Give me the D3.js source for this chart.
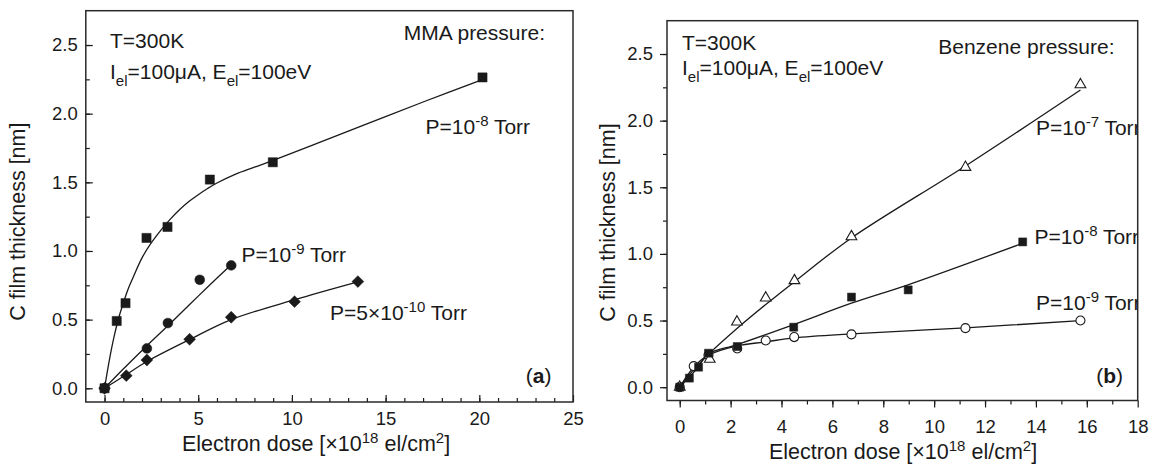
<!DOCTYPE html>
<html><head><meta charset="utf-8">
<script src="https://cdn.jsdelivr.net/npm/d3@7"></script>
<style>
body{margin:0;background:#fff}
svg{display:block}
text{font-family:"Liberation Sans",Arial,Helvetica,sans-serif;fill:#1a1a1a}
</style>
</head><body>
<svg id="c" width="1149" height="465"></svg>
<script>
// ---------- Panel (a): MMA ----------
const aDoseP8  = [0, 0.65, 1.12, 2.24, 3.36, 5.62, 8.98, 20.17];
const aThickP8 = [0, 0.49, 0.62, 1.095, 1.175, 1.52, 1.646, 2.264];
const aFitX8   = [0, 0.25, 0.5, 0.75, 1, 1.25, 1.5, 2, 2.5, 3, 3.5, 4, 4.5, 5, 5.5, 6, 7, 8, 9, 11, 14, 17, 20.2];
const aFitY8   = [0, 0.2, 0.37, 0.51, 0.62, 0.72, 0.8, 0.95, 1.06, 1.15, 1.23, 1.3, 1.36, 1.41, 1.455, 1.495, 1.56, 1.61, 1.66, 1.765, 1.925, 2.085, 2.25];

const aDoseP9  = [0, 2.26, 3.38, 5.08, 6.76];
const aThickP9 = [0, 0.29, 0.475, 0.79, 0.895];
const aFitX9   = [0, 1, 2.26, 3.38, 4.5, 5.6, 6.76];
const aFitY9   = [0, 0.14, 0.31, 0.455, 0.605, 0.75, 0.9];

const aDoseP5  = [0, 1.16, 2.26, 4.54, 6.76, 10.14, 13.52];
const aThickP5 = [0, 0.092, 0.206, 0.357, 0.517, 0.631, 0.777];
const aFitX5   = [0, 1.16, 2.26, 4.54, 6.76, 10.14, 13.52];
const aFitY5   = [0, 0.1, 0.195, 0.355, 0.5, 0.645, 0.775];

// ---------- Panel (b): Benzene ----------
const bDoseP7  = [0, 1.18, 2.25, 3.38, 4.51, 6.75, 11.23, 15.75];
const bThickP7 = [0, 0.21, 0.49, 0.67, 0.80, 1.13, 1.65, 2.27];
const bFitX7   = [0, 0.5, 1.15, 2.25, 3.38, 4.5, 6.75, 11.23, 15.75];
const bFitY7   = [0, 0.12, 0.25, 0.44, 0.62, 0.79, 1.12, 1.66, 2.23];

const bDoseP8  = [0, 0.38, 0.74, 1.13, 2.26, 4.48, 6.75, 8.98, 13.48];
const bThickP8 = [0, 0.068, 0.15, 0.255, 0.305, 0.45, 0.676, 0.73, 1.09];
const bFitX8   = [0, 0.38, 0.74, 1.13, 2.26, 4.48, 6.75, 9.0, 13.48];
const bFitY8   = [0, 0.075, 0.155, 0.25, 0.32, 0.47, 0.63, 0.77, 1.08];

const bDoseP9  = [0, 0.55, 1.13, 2.26, 3.38, 4.5, 6.75, 11.23, 15.75];
const bThickP9 = [0, 0.158, 0.24, 0.29, 0.35, 0.376, 0.396, 0.443, 0.5];
const bFitX9   = [0, 0.55, 1.13, 2.26, 3.38, 4.5, 6.75, 11.23, 15.75];
const bFitY9   = [0, 0.15, 0.24, 0.31, 0.34, 0.37, 0.40, 0.445, 0.5];

// ticks
const aXTicks = [0, 5, 10, 15, 20, 25];
const aXMinor = d3.range(-1, 26, 1);
const yTicks  = [0, 0.5, 1.0, 1.5, 2.0, 2.5];
const yMinor  = d3.range(0, 2.76, 0.25);
const bXTicks = [0, 2, 4, 6, 8, 10, 12, 14, 16, 18];
const bXMinor = d3.range(0, 18.1, 1);

const svg = d3.select("#c");
const ink = "#1a1a1a";
const TICKFS = 18.5, FS = 21, SUB = 15, TITLEFS = 21.5;

function zip(xs, ys){ return xs.map((x,i)=>[x, ys[i]]); }

function panel(cfg){
  const {L,R,T,B,xd,yd} = cfg;
  const x = d3.scaleLinear().domain(xd).range([L,R]);
  const y = d3.scaleLinear().domain(yd).range([B,T]);
  const g = svg.append("g");
  const inward = cfg.inward;
  const minX = d3.axisBottom(x).tickValues(cfg.xMinor.filter(v=>v>xd[0]&&v<xd[1])).tickFormat("").tickSize(inward?-4:4);
  const minY = d3.axisLeft(y).tickValues(yMinor.filter(v=>v>yd[0]&&v<yd[1])).tickFormat("").tickSize(inward?-4:4);
  g.append("g").attr("transform",`translate(0,${B})`).call(minX).call(s=>s.select(".domain").remove());
  g.append("g").attr("transform",`translate(${L},0)`).call(minY).call(s=>s.select(".domain").remove());
  const axX = d3.axisBottom(x).tickValues(cfg.xTicks).tickFormat(d3.format("d"))
      .tickSizeInner(inward?-7:7).tickSizeOuter(0).tickPadding(cfg.xPad);
  const axY = d3.axisLeft(y).tickValues(yTicks).tickFormat(d3.format(".1f"))
      .tickSizeInner(inward?-7:7).tickSizeOuter(0).tickPadding(cfg.yPad);
  const gx = g.append("g").attr("transform",`translate(0,${B})`).call(axX);
  const gy = g.append("g").attr("transform",`translate(${L},0)`).call(axY);
  [gx,gy].forEach(s=>{
    s.select(".domain").remove();
    s.selectAll("text").attr("font-size",TICKFS).style("font-family",'"Liberation Sans",Arial,sans-serif').attr("fill",ink);
  });
  g.selectAll(".tick line").attr("stroke",ink).attr("stroke-width",1.2);
  g.append("rect").attr("x",L).attr("y",T).attr("width",R-L).attr("height",B-T)
    .attr("fill","none").attr("stroke","#2a2a2a").attr("stroke-width",1.5);
  return {x,y,g};
}

const A = panel({L:85.8,R:573,T:10.7,B:402,xd:[-1,25],yd:[-0.1,2.75],
  inward:true,xTicks:aXTicks,xMinor:aXMinor,xPad:10,yPad:8});
const Bp = panel({L:667,R:1137.7,T:20.7,B:400.5,xd:[-0.5,18],yd:[-0.1,2.75],
  inward:false,xTicks:bXTicks,xMinor:bXMinor,xPad:12,yPad:7});

function curve(P, xs, ys){
  const line = d3.line().x(d=>P.x(d[0])).y(d=>P.y(d[1])).curve(d3.curveCatmullRom.alpha(0.5));
  P.g.append("path").attr("d",line(zip(xs,ys))).attr("fill","none").attr("stroke",ink).attr("stroke-width",1.3);
}
function marks(P, xs, ys, type, size, filled, rot){
  P.g.append("g").selectAll("path").data(zip(xs,ys)).join("path")
    .attr("d", d3.symbol().type(type).size(size))
    .attr("transform", d=>`translate(${P.x(d[0])},${P.y(d[1])})${rot?` rotate(${rot})`:""}`)
    .attr("fill", filled?ink:"#fff").attr("stroke",ink).attr("stroke-width",filled?0.5:1.1);
}

// panel a
curve(A, aFitX8, aFitY8);
curve(A, aFitX9, aFitY9);
curve(A, aFitX5, aFitY5);
marks(A, aDoseP8, aThickP8, d3.symbolSquare, 84, true);
marks(A, aDoseP9, aThickP9, d3.symbolCircle, 76, true);
marks(A, aDoseP5, aThickP5, d3.symbolSquare, 70, true, 45);

// panel b
curve(Bp, bFitX7, bFitY7);
curve(Bp, bFitX8, bFitY8);
curve(Bp, bFitX9, bFitY9);
marks(Bp, bDoseP9, bThickP9, d3.symbolCircle, 64, false);
marks(Bp, bDoseP7, bThickP7, d3.symbolTriangle, 50, false);
marks(Bp, bDoseP8, bThickP8, d3.symbolSquare, 64, true);

// ---------- text ----------
function rich(parent, x, y, parts, opts={}){
  const t = parent.append("text").attr("x",x).attr("y",y).attr("font-size",opts.fs||FS);
  if(opts.anchor) t.attr("text-anchor",opts.anchor);
  let shift = 0;
  parts.forEach(p=>{
    const s = t.append("tspan").text(p.t);
    const target = p.sup ? -8 : p.sub ? 7 : 0;
    if(target!==shift){ s.attr("dy", target-shift); shift = target; }
    if(p.sup||p.sub) s.attr("font-size",SUB);
    if(p.bold) s.attr("font-weight","bold");
  });
  return t;
}
const T = s=>({t:s}), SUP = s=>({t:s,sup:true}), SB = s=>({t:s,sub:true});

svg.append("clipPath").attr("id","clipB").append("rect").attr("x",667).attr("y",20.7).attr("width",470.7).attr("height",380);
const gb = svg.append("g").attr("clip-path","url(#clipB)");
const ga = svg.append("g");

// panel a annotations
rich(ga,110,48.3,[T("T=300K")]);
rich(ga,110,79,[T("I"),SB("el"),T("=100μA, E"),SB("el"),T("=100eV")]);
rich(ga,545,40,[T("MMA pressure:")],{anchor:"end"});
rich(ga,425.5,134,[T("P=10"),SUP("-8"),T(" Torr")]);
rich(ga,241.5,262,[T("P=10"),SUP("-9"),T(" Torr")]);
rich(ga,330,319.5,[T("P=5×10"),SUP("-10"),T(" Torr")]);
rich(ga,551.5,383,[T("("),{t:"a",bold:true},T(")")],{anchor:"end"});
rich(ga,316,451,[T("Electron dose [×10"),SUP("18"),T(" el/cm"),SUP("2"),T("]")],{anchor:"middle",fs:TITLEFS});
ga.append("text").attr("transform","translate(25,221.7) rotate(-90)").attr("text-anchor","middle")
  .attr("font-size",TITLEFS).text("C film thickness [nm]");

// panel b annotations
rich(gb,682,50,[T("T=300K")]);
rich(gb,682,75,[T("I"),SB("el"),T("=100μA, E"),SB("el"),T("=100eV")]);
rich(gb,1114.5,54,[T("Benzene pressure:")],{anchor:"end"});
rich(gb,1036,135,[T("P=10"),SUP("-7"),T(" Torr")]);
rich(gb,1034.5,244,[T("P=10"),SUP("-8"),T(" Torr")]);
rich(gb,1036,310,[T("P=10"),SUP("-9"),T(" Torr")]);
rich(gb,1123,383,[T("("),{t:"b",bold:true},T(")")],{anchor:"end"});
rich(svg,903,459,[T("Electron dose [×10"),SUP("18"),T(" el/cm"),SUP("2"),T("]")],{anchor:"middle",fs:TITLEFS});
svg.append("text").attr("transform","translate(615,222.5) rotate(-90)").attr("text-anchor","middle")
  .attr("font-size",TITLEFS).text("C film thickness [nm]");
</script>
</body></html>
